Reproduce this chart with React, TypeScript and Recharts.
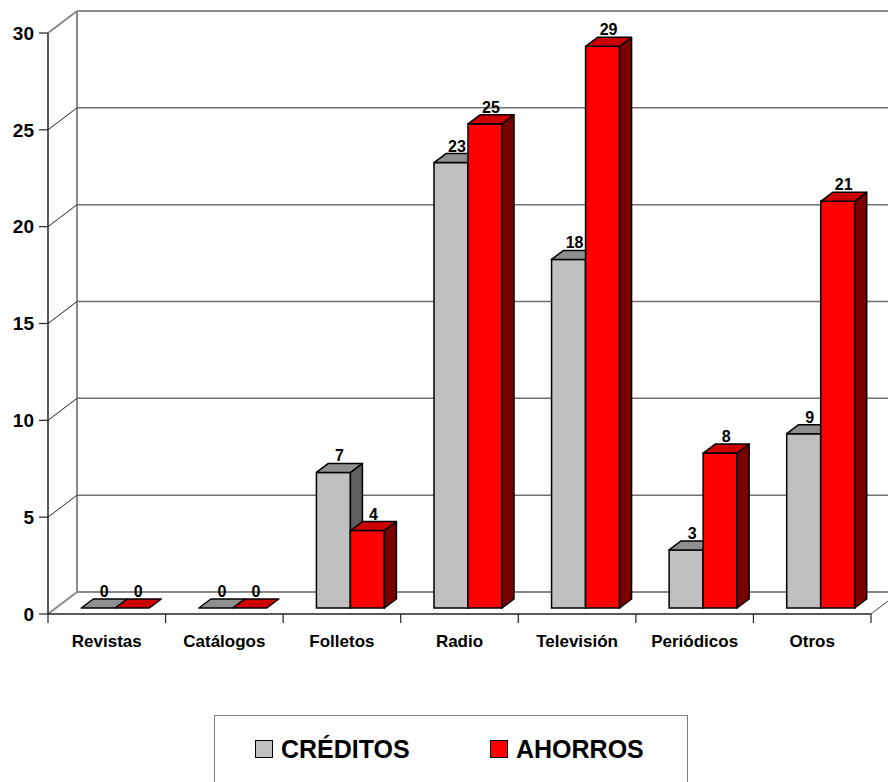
import { BarChart, Bar, XAxis, YAxis, CartesianGrid, LabelList } from 'recharts'

const categories = ['Revistas', 'Catálogos', 'Folletos', 'Radio', 'Televisión', 'Periódicos', 'Otros']
const creditos = [0, 0, 7, 23, 18, 3, 9]
const ahorros = [0, 0, 4, 25, 29, 8, 21]
const yTicks = [0, 5, 10, 15, 20, 25, 30]
const seriesNames = ['CRÉDITOS', 'AHORROS']

const data = categories.map((name, i) => ({ name, creditos: creditos[i], ahorros: ahorros[i] }))

const WIDTH = 888
const HEIGHT = 700
const MARGIN = { top: 33, right: 17, left: 0, bottom: 46 }
const Y_AXIS_W = 48
const X_AXIS_H = 40
const PLOT_W = WIDTH - MARGIN.left - MARGIN.right - Y_AXIS_W
const X_TICK_SIZE = 8
const X_TICK_MARGIN = 6

// 3D offsets: back wall depth, bar plane, bar depth
const WALL_DX = 29
const WALL_DY = -22
const BAR_DX = 8
const BAR_DY = -6
const SIDE_DX = 12
const SIDE_DY = -9

const FONT = '"Liberation Sans", Arial, sans-serif'
const WALL = '#8a8a8a'

const makeBar3D = (front: string, top: string, side: string) => (props: any) => {
  const { x, y, width } = props
  const h = Math.max(props.height || 0, 0)
  const x0 = x + BAR_DX
  const y0 = y + BAR_DY
  const sw = 1.5
  return (
    <g>
      {h > 0 && (
        <rect x={x0} y={y0} width={width} height={h} fill={front} stroke="#000" strokeWidth={sw} />
      )}
      {h > 0 && (
        <polygon
          points={`${x0 + width},${y0} ${x0 + width + SIDE_DX},${y0 + SIDE_DY} ${x0 + width + SIDE_DX},${y0 + h + SIDE_DY} ${x0 + width},${y0 + h}`}
          fill={side}
          stroke="#000"
          strokeWidth={sw}
          strokeLinejoin="round"
        />
      )}
      <polygon
        points={`${x0},${y0} ${x0 + width},${y0} ${x0 + width + SIDE_DX},${y0 + SIDE_DY} ${x0 + SIDE_DX},${y0 + SIDE_DY}`}
        fill={top}
        stroke="#000"
        strokeWidth={sw}
        strokeLinejoin="round"
      />
    </g>
  )
}

const ValueLabel = (props: any) => {
  const vb = props.viewBox || props
  const { x, y, width } = vb
  return (
    <text
      x={x + BAR_DX + width / 2 + SIDE_DX / 2}
      y={y + BAR_DY + SIDE_DY - 2}
      textAnchor="middle"
      fontSize={16}
      fontWeight={700}
      fill="#000"
    >
      {props.value}
    </text>
  )
}

const wallGrid = (props: any) => {
  const { x1, y1, x2, index } = props
  const x = props.x ?? MARGIN.left + Y_AXIS_W
  const y = props.y ?? MARGIN.top
  const width = props.width ?? PLOT_W
  const height = props.height ?? HEIGHT - MARGIN.top - MARGIN.bottom - X_AXIS_H
  const bottom = y + height
  const lines = []
  if (index === 0) {
    lines.push(<line key="top" x1={x + WALL_DX} y1={y + WALL_DY} x2={x + width + WALL_DX} y2={y + WALL_DY} stroke={WALL} strokeWidth={2} />)
    lines.push(<line key="left" x1={x + WALL_DX} y1={y + WALL_DY} x2={x + WALL_DX} y2={bottom + WALL_DY} stroke={WALL} strokeWidth={2} />)
    lines.push(<line key="floor" x1={x + WALL_DX} y1={bottom + WALL_DY} x2={x + width + WALL_DX} y2={bottom + WALL_DY} stroke={WALL} strokeWidth={2} />)
    lines.push(<line key="dtop" x1={x} y1={y} x2={x + WALL_DX} y2={y + WALL_DY} stroke={WALL} strokeWidth={2} />)
    lines.push(<line key="dfl" x1={x} y1={bottom} x2={x + WALL_DX} y2={bottom + WALL_DY} stroke={WALL} strokeWidth={2} />)
    lines.push(<line key="dfr" x1={x + width} y1={bottom} x2={x + width + WALL_DX} y2={bottom + WALL_DY} stroke="#444" strokeWidth={1} />)
  }
  if (Math.abs(y1 - y) > 1 && Math.abs(y1 - bottom) > 1) {
    lines.push(<line key="b" x1={x1 + WALL_DX} y1={y1 + WALL_DY} x2={x2 + WALL_DX} y2={y1 + WALL_DY} stroke="#707070" strokeWidth={1.5} />)
    lines.push(<line key="d" x1={x1} y1={y1} x2={x1 + WALL_DX} y2={y1 + WALL_DY} stroke="#222" strokeWidth={1} />)
  }
  return <g key={props.key ?? `grid-${index}`}>{lines}</g>
}

const CategoryTick = (props: any) => {
  const { x, y, payload, index } = props
  const half = PLOT_W / categories.length / 2
  const axisY = y - X_TICK_SIZE - X_TICK_MARGIN
  return (
    <g>
      {index === 0 && <line x1={x - half} y1={axisY} x2={x - half} y2={axisY + 9} stroke="#222" strokeWidth={1.2} />}
      <line x1={x + half} y1={axisY} x2={x + half} y2={axisY + 9} stroke="#222" strokeWidth={1.2} />
      <text x={x} y={axisY + 33} textAnchor="middle" fontSize={17} fontWeight={700} fill="#000">
        {payload.value}
      </text>
    </g>
  )
}

const legendItems = [
  { name: seriesNames[0], color: '#C0C0C0', left: 255 },
  { name: seriesNames[1], color: '#FF0000', left: 490 },
]

export default function App() {
  return (
    <div style={{ position: 'relative', width: WIDTH, height: 782, overflow: 'hidden', background: '#fff', fontFamily: FONT }}>
      <style>{'body{margin:0}'}</style>
      <BarChart
        width={WIDTH}
        height={HEIGHT}
        data={data}
        margin={MARGIN}
        barCategoryGap="21.5%"
        barGap={0}
      >
        <CartesianGrid horizontal={wallGrid} vertical={false} />
        <XAxis
          dataKey="name"
          height={X_AXIS_H}
          tickSize={X_TICK_SIZE}
          tickMargin={X_TICK_MARGIN}
          tickLine={false}
          axisLine={{ stroke: '#222', strokeWidth: 1.5 }}
          tick={<CategoryTick />}
          interval={0}
        />
        <YAxis
          width={Y_AXIS_W}
          domain={[0, 30]}
          ticks={yTicks}
          tickSize={9}
          tickMargin={5}
          axisLine={{ stroke: '#222', strokeWidth: 1.5 }}
          tickLine={{ stroke: '#222', strokeWidth: 1.2 }}
          tick={{ fontSize: 19, fontWeight: 700, fill: '#000' }}
          interval={0}
        />
        <Bar dataKey="creditos" name={seriesNames[0]} fill="#C0C0C0" isAnimationActive={false}
          shape={makeBar3D('#C0C0C0', '#8f8f8f', '#5f5f5f')}>
          <LabelList dataKey="creditos" content={ValueLabel} />
        </Bar>
        <Bar dataKey="ahorros" name={seriesNames[1]} fill="#FF0000" isAnimationActive={false}
          shape={makeBar3D('#FF0000', '#CC0000', '#7a0000')}>
          <LabelList dataKey="ahorros" content={ValueLabel} />
        </Bar>
      </BarChart>

      {/* Legend box */}
      <div style={{
        position: 'absolute', left: 214, top: 715, width: 472, height: 70,
        border: '1.5px solid #808080', borderBottom: 'none', background: '#fff',
      }} />
      {legendItems.map(item => (
        <div key={item.name} style={{ position: 'absolute', left: item.left, top: 735, display: 'flex', alignItems: 'center', height: 28 }}>
          <span style={{ display: 'inline-block', width: 16, height: 16, background: item.color, border: '1.5px solid #000', marginRight: 8 }} />
          <span style={{ fontSize: 25, fontWeight: 700, color: '#000', lineHeight: '28px' }}>{item.name}</span>
        </div>
      ))}
    </div>
  )
}
